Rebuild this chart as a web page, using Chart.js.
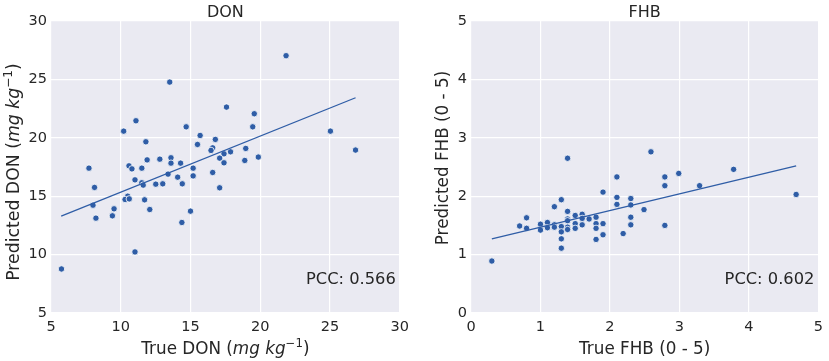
<!DOCTYPE html>
<html><head><meta charset="utf-8">
<script src="https://cdn.jsdelivr.net/npm/chart.js@4/dist/chart.umd.min.js"></script>
<style>
html,body{margin:0;padding:0;background:#fff;width:829px;height:361px;overflow:hidden}
canvas{position:absolute;top:0}
</style></head><body>
<canvas id="c1" width="415" height="361" style="left:0"></canvas>
<canvas id="c2" width="414" height="361" style="left:415px"></canvas>
<script>
// ---- DON data ----
const donTrue = [21.85,13.51,17.58,19.57,11.09,14.69,19.46,10.21,25.03,15.69,11.80,16.78,15.50,16.59,16.47,18.96,17.87,17.40,26.83,19.86,17.09,18.89,17.40,13.60,13.60,12.80,11.89,14.29,7.72,10.59,10.80,11.51,15.19,16.59,13.39,14.08,15.19,11.02,11.51,11.61,12.51,13.01,14.41,8.12,17.09,10.50,10.31,10.61,11.71,8.01,9.52,12.08,15.00,9.40,8.22,14.38,11.02,5.75];
const donPred = [27.03,24.77,22.63,22.06,21.46,20.94,20.94,20.57,20.57,20.20,19.66,19.86,19.43,19.14,18.92,19.09,18.80,18.63,18.95,18.35,18.26,18.06,17.86,18.29,17.83,18.17,18.11,17.83,17.40,17.60,17.34,17.40,17.40,17.03,16.89,16.63,16.74,16.40,16.15,15.95,16.03,16.06,16.06,15.75,15.72,15.00,14.72,14.77,14.69,14.23,13.92,13.86,13.72,13.32,13.12,12.75,10.23,8.77];
const donFitX = [5.73, 26.83];
const donFitY = [13.29, 23.43];
const donTicks = [5,10,15,20,25,30];
const donPCC = "PCC: 0.566";
// ---- FHB data ----
const fhbTrue = [0.30,2.59,1.39,3.78,2.99,2.10,2.79,2.79,3.29,1.90,4.68,2.10,2.30,1.30,2.10,2.30,1.20,2.49,1.39,1.50,1.60,0.80,2.30,1.80,1.70,1.60,1.39,1.39,1.10,1.00,1.20,1.50,1.60,1.90,1.80,2.30,2.79,0.70,1.10,1.30,1.20,1.39,1.39,0.80,1.50,1.80,1.00,1.30,1.90,2.19,1.30,1.80,1.30];
const fhbPred = [0.89,2.76,2.65,2.46,2.39,2.33,2.33,2.18,2.18,2.07,2.03,1.98,1.96,1.94,1.86,1.85,1.82,1.77,1.74,1.67,1.69,1.63,1.64,1.64,1.61,1.62,1.61,1.58,1.55,1.52,1.51,1.53,1.51,1.53,1.53,1.51,1.50,1.49,1.46,1.48,1.47,1.47,1.43,1.45,1.45,1.45,1.42,1.39,1.34,1.36,1.27,1.26,1.11];
const fhbFitX = [0.30, 4.68];
const fhbFitY = [1.27, 2.52];
const fhbTicks = [0,1,2,3,4,5];
const fhbPCC = "PCC: 0.602";

const BLUE = '#2F5DA6';
const FONT = "'DejaVu Sans', sans-serif";

function pts(xs, ys){ return xs.map((x,i)=>({x:x,y:ys[i]})); }

function drawRich(ctx, parts, size){
  let w = 0;
  const widths = parts.map(p=>{
    ctx.font = (p.italic?'italic ':'') + (p.sup? size*0.7 : size) + 'px ' + FONT;
    const m = ctx.measureText(p.t).width; w += m; return m;
  });
  let x = -w/2;
  parts.forEach((p,i)=>{
    ctx.font = (p.italic?'italic ':'') + (p.sup? size*0.7 : size) + 'px ' + FONT;
    ctx.fillText(p.t, x, p.sup ? -size*0.42 : 0);
    x += widths[i];
  });
}

function makeChart(id, xs, ys, fx, fy, ticks, cfg){
  const bgPlugin = {
    id:'bg',
    beforeDraw(chart){
      const {ctx, chartArea:a} = chart;
      ctx.save(); ctx.fillStyle = '#EAEAF2';
      ctx.fillRect(a.left, a.top, a.right-a.left, a.bottom-a.top); ctx.restore();
    },
    afterDraw(chart){
      const {ctx, chartArea:a} = chart;
      ctx.save();
      ctx.fillStyle = '#262626';
      ctx.textBaseline = 'alphabetic';
      ctx.font = '16px ' + FONT; ctx.textAlign = 'center';
      ctx.fillText(cfg.title, (a.left+a.right)/2, 17);
      ctx.font = '16.3px ' + FONT;
      ctx.textAlign = 'right';
      ctx.fillText(cfg.pcc, a.right - 4, 284);
      ctx.textAlign = 'left';
      ctx.save(); ctx.translate((a.left+a.right)/2, 354);
      drawRich(ctx, cfg.xTitle, 16.8); ctx.restore();
      ctx.save(); ctx.translate(cfg.yTitleX, cfg.yTitleY); ctx.rotate(-Math.PI/2);
      drawRich(ctx, cfg.yTitle, cfg.ySize); ctx.restore();
      ctx.restore();
    }
  };
  return new Chart(document.getElementById(id), {
    type:'scatter',
    data:{datasets:[
      {data:pts(xs,ys), backgroundColor:BLUE, borderColor:'#ffffff', borderWidth:0.8, pointRadius:3.2, order:1},
      {data:pts(fx,fy), showLine:true, borderColor:BLUE, borderWidth:1.3, pointRadius:0, order:0}
    ]},
    options:{
      responsive:false, animation:false,
      layout:{padding:{top:21, right:cfg.padRight, left:0, bottom:0}},
      plugins:{legend:{display:false}, tooltip:{enabled:false}},
      scales:{
        x:{type:'linear', min:ticks[0], max:ticks[ticks.length-1],
           afterBuildTicks:s=>{s.ticks = ticks.map(v=>({value:v}));},
           afterFit:s=>{s.height = 48;},
           grid:{color:'#ffffff', lineWidth:1.2, drawTicks:false},
           border:{display:false},
           ticks:{color:'#262626', font:{family:FONT, size:14.5}, padding:6, maxRotation:0}},
        y:{type:'linear', min:ticks[0], max:ticks[ticks.length-1],
           afterBuildTicks:s=>{s.ticks = ticks.map(v=>({value:v}));},
           afterFit:s=>{s.width = cfg.yWidth;},
           grid:{color:'#ffffff', lineWidth:1.2, drawTicks:false},
           border:{display:false},
           ticks:{color:'#262626', font:{family:FONT, size:14.5}, padding:4}}
      }
    },
    plugins:[bgPlugin]
  });
}

makeChart('c1', donTrue, donPred, donFitX, donFitY, donTicks, {
  title:'DON', pcc:donPCC, padRight:12, yWidth:51, yTitleX:19, yTitleY:172, ySize:17.3,
  xTitle:[{t:'True DON ('},{t:'mg kg',italic:true},{t:'\u22121',sup:true},{t:')'}],
  yTitle:[{t:'Predicted DON ('},{t:'mg kg',italic:true},{t:'\u22121',sup:true},{t:')'}]
});
makeChart('c2', fhbTrue, fhbPred, fhbFitX, fhbFitY, fhbTicks, {
  title:'FHB', pcc:fhbPCC, padRight:7, yWidth:56, yTitleX:33, yTitleY:158, ySize:16.8,
  xTitle:[{t:'True FHB (0 - 5)'}],
  yTitle:[{t:'Predicted FHB (0 - 5)'}]
});
</script>
</body></html>
